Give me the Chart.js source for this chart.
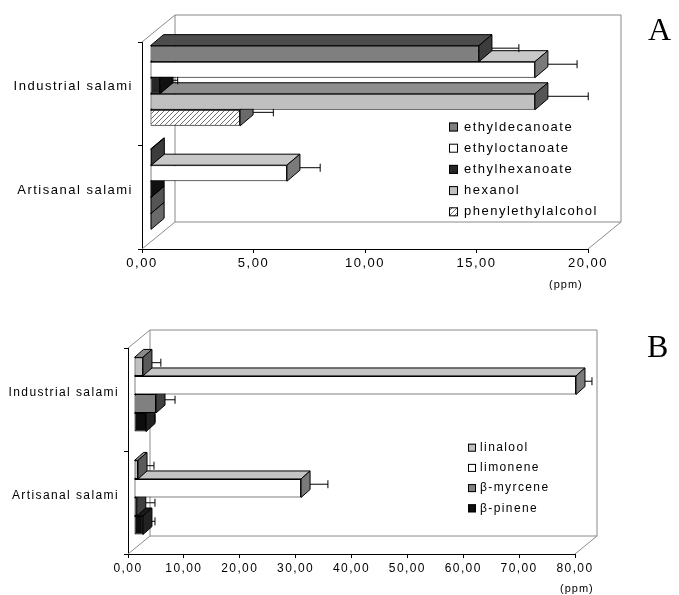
<!DOCTYPE html>
<html>
<head>
<meta charset="utf-8">
<script src="https://cdn.jsdelivr.net/npm/chart.js@4.4.1/dist/chart.umd.min.js"></script>
<style>
  html, body { margin: 0; padding: 0; background: #fff; }
  #wrap { position: relative; width: 679px; height: 595px; overflow: hidden; background: #fff; }
  canvas { position: absolute; left: 0; }
  #ca { top: 0; }
  #cb { top: 297px; }
  .tag { position: absolute; font-family: "Liberation Serif", serif; line-height: 1; color: #000; }
  .unit { position: absolute; font-family: "Liberation Sans", Arial, sans-serif; font-size: 11px; letter-spacing: 1px; line-height: 1; color: #000; }
</style>
</head>
<body>
<div id="wrap">
  <canvas id="ca" width="679" height="297"></canvas>
  <canvas id="cb" width="679" height="298"></canvas>
  <div class="tag" style="left:648px; top:13px; font-size:32px;">A</div>
  <div class="tag" style="left:647px; top:330px; font-size:32px;">B</div>
  <div class="unit" style="left:549px; top:279px;">(ppm)</div>
  <div class="unit" style="left:560px; top:583px;">(ppm)</div>
</div>
<script>
// Sample groups (y categories)
const samples = ['Industrial salami', 'Artisanal salami'];

// Panel A: esters and alcohols, mean and standard deviation (ppm)
const ticksA = [0, 5, 10, 15, 20];
const ethyldecanoate = [14.75, 0.06];
const ethyldecanoateSd = [1.5, 0];
const ethyloctanoate = [17.26, 6.14];
const ethyloctanoateSd = [1.6, 1.2];
const ethylhexanoate = [0.45, 0.05];
const ethylhexanoateSd = [0.5, 0];
const hexanol = [17.26, 0.05];
const hexanolSd = [2.1, 0];
const phenylethylalcohol = [4.04, 0.05];
const phenylethylalcoholSd = [1.2, 0];

// Panel B: terpenes, mean and standard deviation (ppm)
const ticksB = [0, 10, 20, 30, 40, 50, 60, 70, 80];
const linalool = [1.6, 0.72];
const linaloolSd = [2.4, 2.05];
const limonene = [79.1, 29.9];
const limoneneSd = [2.06, 4.0];
const bMyrcene = [3.94, 0.5];
const bMyrceneSd = [2.6, 2.45];
const bPinene = [2.15, 1.6];
const bPineneSd = [0.8, 1.35];

Chart.defaults.font.family = '"Liberation Sans", Arial, sans-serif';
Chart.defaults.color = '#000';
Chart.defaults.animation = false;

const fmt = v => Number(v).toFixed(2).replace('.', ',');

// diagonal hatch fill
function hatch(bg, line) {
  const t = document.createElement('canvas');
  t.width = 5; t.height = 5;
  const g = t.getContext('2d');
  g.fillStyle = bg; g.fillRect(0, 0, 5, 5);
  g.strokeStyle = line; g.lineWidth = 1;
  g.beginPath(); g.moveTo(-1, 6); g.lineTo(6, -1); g.stroke();
  return g.createPattern(t, 'repeat');
}

function face(c, pts, fill) {
  c.beginPath();
  c.moveTo(pts[0][0], pts[0][1]);
  for (let k = 1; k < pts.length; k++) c.lineTo(pts[k][0], pts[k][1]);
  c.closePath();
  c.fillStyle = fill; c.fill();
  c.stroke();
}

// letter spacing for all canvas text
const spacing = {
  id: 'spacing',
  beforeDraw(chart, args, o) { chart.ctx.letterSpacing = o.px + 'px'; }
};

// back wall and floor edges of the box
const frame3d = {
  id: 'frame3d',
  beforeDatasetsDraw(chart, args, o) {
    const { left: L, right: R, top: T, bottom: B } = chart.chartArea;
    const c = chart.ctx;
    c.save();
    c.lineWidth = 1; c.strokeStyle = o.color;
    c.beginPath();
    c.rect(L + o.wx, T - o.wy, R - L, B - T);
    c.moveTo(L, T); c.lineTo(L + o.wx, T - o.wy);
    c.moveTo(L, B); c.lineTo(L + o.wx, B - o.wy);
    c.moveTo(R, B); c.lineTo(R + o.wx, B - o.wy);
    c.stroke();
    c.restore();
  }
};

// bars pushed into depth, with top and end faces plus error bars
const depthBars = {
  id: 'depthBars',
  beforeDatasetDraw(chart, args, o) {
    chart.ctx.save();
    chart.ctx.translate(o.shiftX, o.shiftY);
  },
  afterDatasetDraw(chart, args, o) {
    const c = chart.ctx, ds = chart.data.datasets[args.index];
    const xs = chart.scales.x;
    c.lineWidth = 1; c.strokeStyle = '#000';
    args.meta.data.forEach((bar, i) => {
      const p = bar.getProps(['x', 'y', 'base', 'height'], true);
      const l = Math.min(p.x, p.base), r = Math.max(p.x, p.base);
      const t = p.y - p.height / 2, b = p.y + p.height / 2;
      face(c, [[l, t], [r, t], [r + o.dx, t - o.dy], [l + o.dx, t - o.dy]], ds.topColor);
      face(c, [[r, t], [r + o.dx, t - o.dy], [r + o.dx, b - o.dy], [r, b]], ds.endColor);
      const sd = ds.sd[i];
      if (sd > 0) {
        const xe = xs.getPixelForValue(ds.data[i] + sd) + o.dx / 2;
        const ym = p.y - o.dy / 2;
        c.beginPath();
        if (xe > r + o.dx) { c.moveTo(r + o.dx, ym); c.lineTo(xe, ym); }
        c.moveTo(xe, ym - o.cap); c.lineTo(xe, ym + o.cap);
        c.stroke();
      }
    });
    c.restore();
  }
};

// legend drawn inside the plot box
const boxLegend = {
  id: 'boxLegend',
  afterDraw(chart, args, o) {
    const c = chart.ctx;
    c.save();
    c.font = o.size + 'px "Liberation Sans", Arial, sans-serif';
    c.textBaseline = 'middle'; c.textAlign = 'left';
    chart.data.datasets.forEach((ds, i) => {
      const y = o.y + i * o.gap;
      c.fillStyle = ds.backgroundColor;
      c.fillRect(o.x, y - o.box / 2, o.box, o.box);
      c.strokeStyle = '#000'; c.lineWidth = 1;
      c.strokeRect(o.x + 0.5, y - o.box / 2 + 0.5, o.box - 1, o.box - 1);
      c.fillStyle = '#000';
      c.fillText(ds.label, o.textX, y);
    });
    c.restore();
  }
};

function makeChart(id, cfg) {
  return new Chart(document.getElementById(id), {
    type: 'bar',
    data: { labels: samples, datasets: cfg.datasets },
    plugins: [spacing, frame3d, depthBars, boxLegend],
    options: {
      responsive: false,
      animation: false,
      indexAxis: 'y',
      layout: { padding: cfg.padding },
      datasets: { bar: { categoryPercentage: cfg.catPct, barPercentage: 1, borderColor: '#000', borderWidth: 1, borderSkipped: false, clip: false } },
      plugins: {
        legend: { display: false },
        tooltip: { enabled: false },
        spacing: { px: cfg.spacing },
        frame3d: cfg.frame,
        depthBars: cfg.depth,
        boxLegend: cfg.legend
      },
      scales: {
        x: {
          min: cfg.ticks[0], max: cfg.ticks[cfg.ticks.length - 1],
          afterBuildTicks: s => { s.ticks = cfg.ticks.map(v => ({ value: v })); },
          afterFit: s => { s.height = cfg.xHeight; },
          grid: { drawOnChartArea: false, drawTicks: true, tickLength: 4, color: '#000' },
          border: { display: true, color: '#000', width: 1 },
          ticks: { font: { size: cfg.font }, padding: cfg.xPad, callback: v => fmt(v), maxRotation: 0, autoSkip: false }
        },
        y: {
          afterFit: s => { s.width = cfg.yWidth; },
          grid: { drawOnChartArea: false, drawTicks: true, tickLength: 4, color: '#000', offset: true },
          border: { display: true, color: '#000', width: 1 },
          ticks: { font: { size: cfg.font }, padding: 5, labelOffset: -7 }
        }
      }
    }
  });
}

makeChart('ca', {
  ticks: ticksA,
  padding: { top: 42, right: 91, left: 0, bottom: 0 },
  yWidth: 142, xHeight: 48, xPad: 3, font: 13, spacing: 1.5, catPct: 0.775,
  frame: { wx: 33, wy: 27, color: '#8a8a8a' },
  depth: { shiftX: 8, shiftY: -8, dx: 13, dy: 11, cap: 4 },
  legend: { x: 449, textX: 464, y: 127, gap: 21.2, box: 9, size: 13 },
  datasets: [
    { label: 'ethyldecanoate', data: ethyldecanoate, sd: ethyldecanoateSd, backgroundColor: '#7f7f7f', topColor: '#4d4d4d', endColor: '#3c3c3c' },
    { label: 'ethyloctanoate', data: ethyloctanoate, sd: ethyloctanoateSd, backgroundColor: '#ffffff', topColor: '#c8c8c8', endColor: '#7a7a7a' },
    { label: 'ethylhexanoate', data: ethylhexanoate, sd: ethylhexanoateSd, backgroundColor: '#262626', topColor: '#161616', endColor: '#101010' },
    { label: 'hexanol', data: hexanol, sd: hexanolSd, backgroundColor: '#c0c0c0', topColor: '#8e8e8e', endColor: '#555555' },
    { label: 'phenylethylalcohol', data: phenylethylalcohol, sd: phenylethylalcoholSd, backgroundColor: hatch('#ffffff', '#6e6e6e'), topColor: '#b4b4b4', endColor: '#6a6a6a' }
  ]
});

makeChart('cb', {
  ticks: ticksB,
  padding: { top: 51, right: 104, left: 0, bottom: 0 },
  yWidth: 128, xHeight: 41, xPad: 3, font: 12, spacing: 1.4, catPct: 0.72,
  frame: { wx: 22, wy: 18, color: '#8a8a8a' },
  depth: { shiftX: 6, shiftY: -5, dx: 9, dy: 8, cap: 4 },
  legend: { x: 468, textX: 480, y: 150.7, gap: 20.2, box: 8, size: 12 },
  datasets: [
    { label: 'linalool', data: linalool, sd: linaloolSd, backgroundColor: '#c0c0c0', topColor: '#8a8a8a', endColor: '#5a5a5a' },
    { label: 'limonene', data: limonene, sd: limoneneSd, backgroundColor: '#ffffff', topColor: '#c4c4c4', endColor: '#7a7a7a' },
    { label: 'β-myrcene', data: bMyrcene, sd: bMyrceneSd, backgroundColor: '#808080', topColor: '#555555', endColor: '#404040' },
    { label: 'β-pinene', data: bPinene, sd: bPineneSd, backgroundColor: '#0d0d0d', topColor: '#1a1a1a', endColor: '#222222' }
  ]
});
</script>
</body>
</html>
